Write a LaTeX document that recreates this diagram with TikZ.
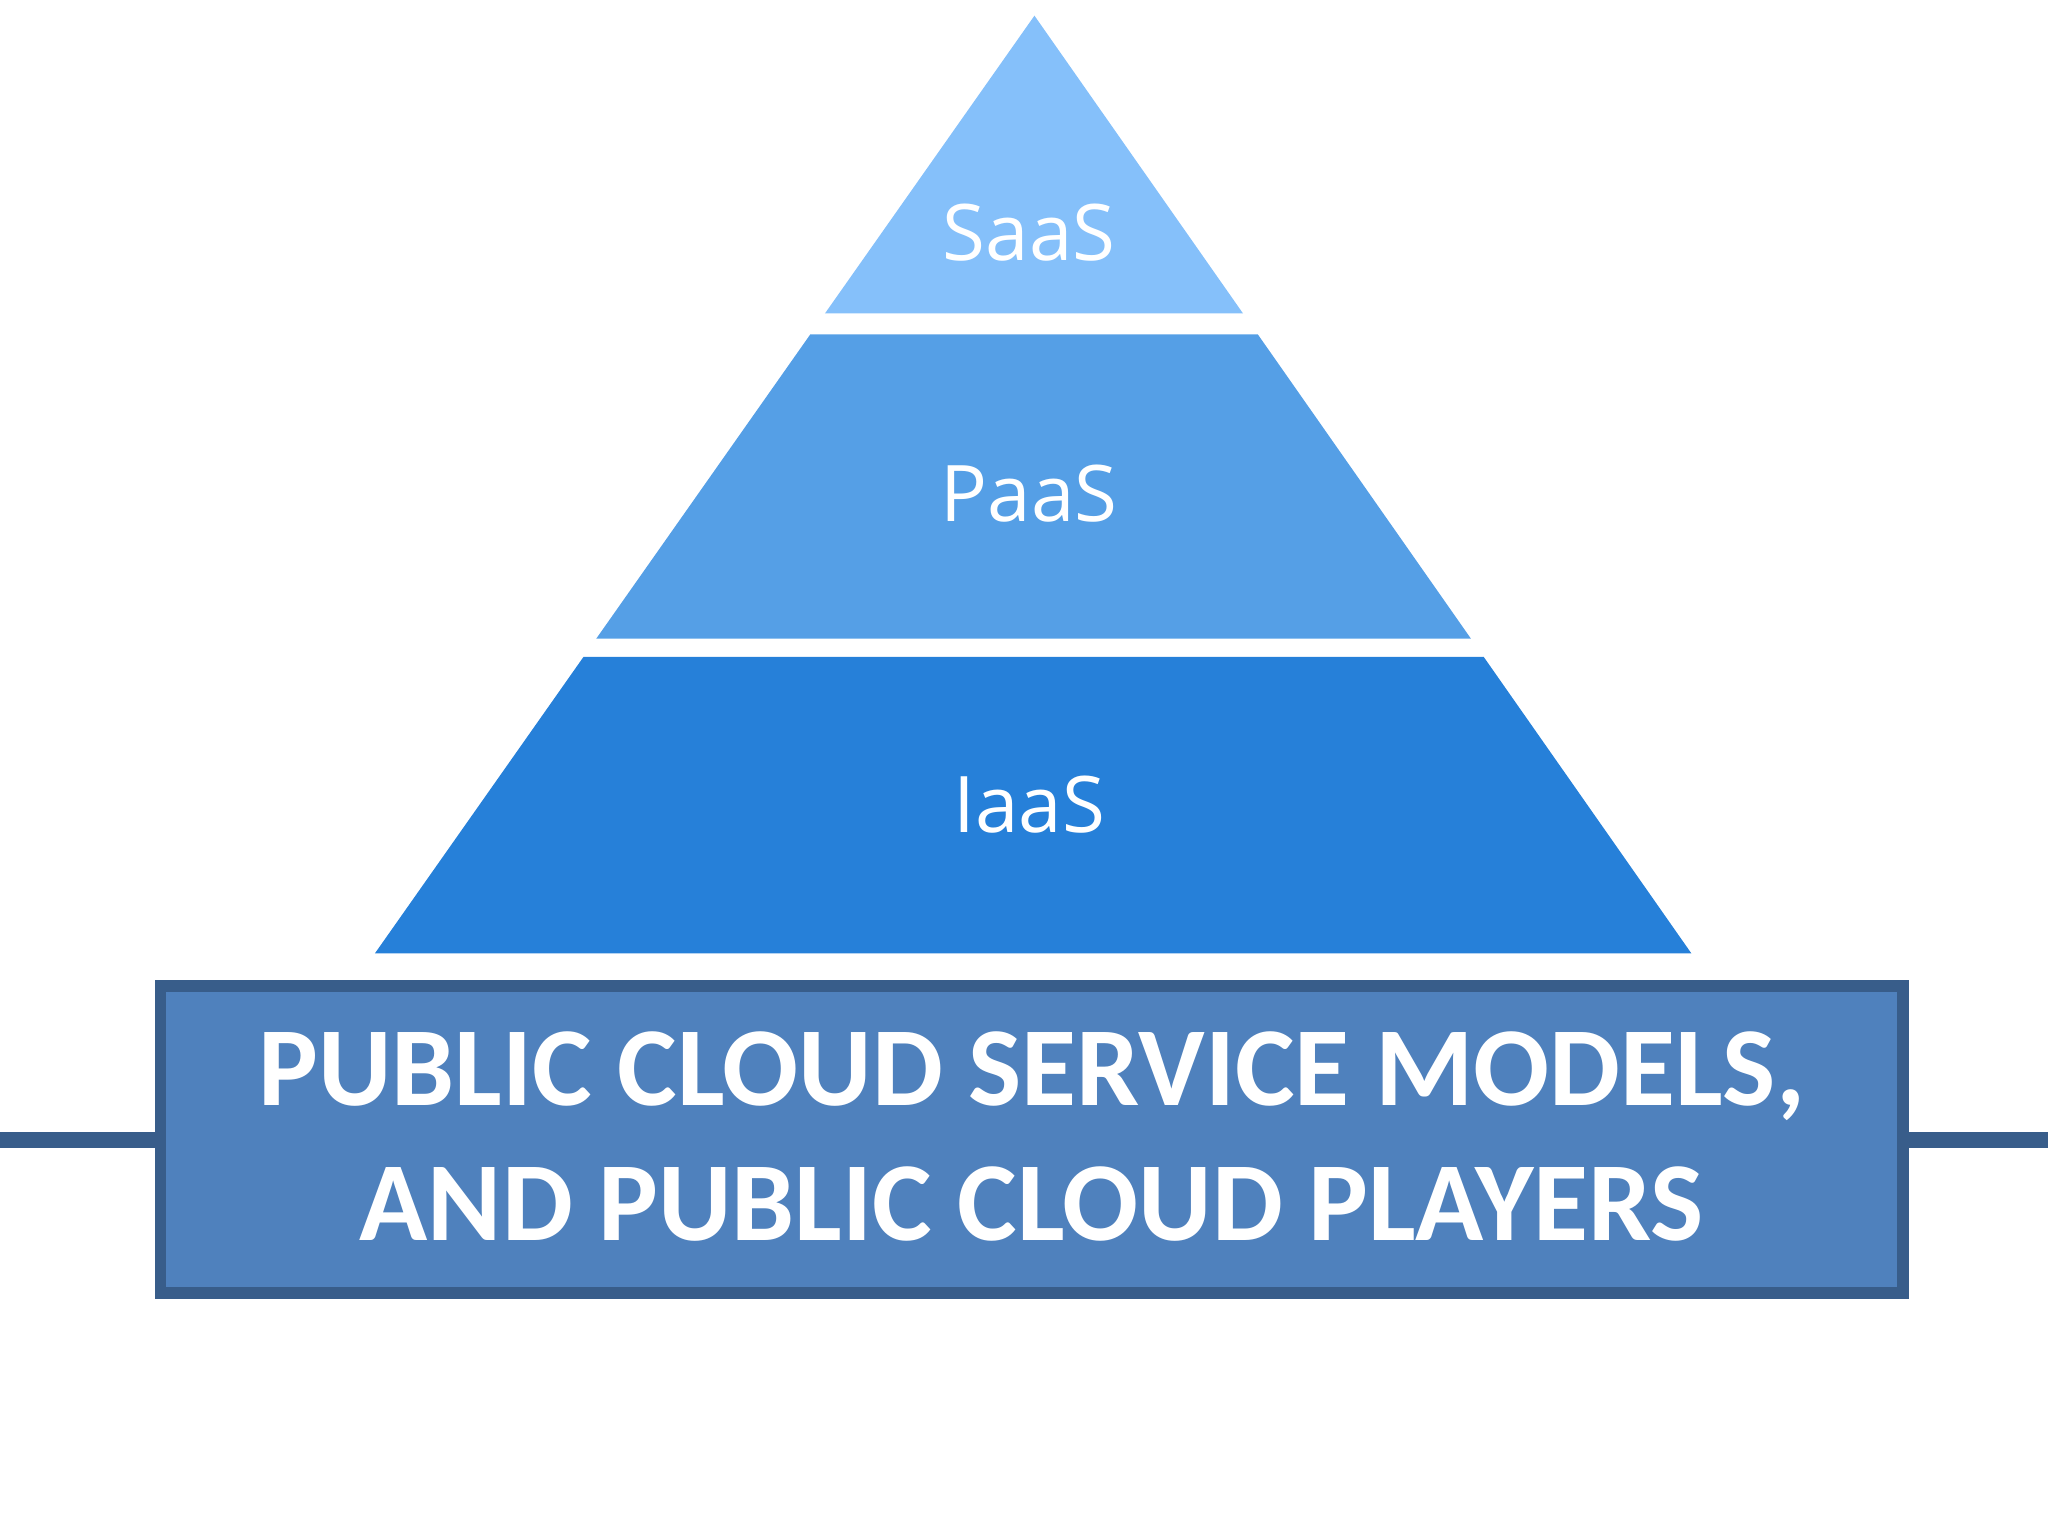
\documentclass[tikz,border=0pt]{standalone}
\usepackage{fontspec}
\setmainfont{Carlito}
\newfontfamily\lblfont{Open Sans}
\definecolor{saas}{HTML}{85C0FA}
\definecolor{paas}{HTML}{559FE6}
\definecolor{iaas}{HTML}{2680D9}
\definecolor{boxfill}{HTML}{4F81BD}
\definecolor{boxdraw}{HTML}{385D8A}
\begin{document}
\begin{tikzpicture}[x=0.01cm,y=-0.01cm,
  lbl/.style={text=white,font=\lblfont\fontsize{17}{20}\selectfont}]
\useasboundingbox (0,0) rectangle (1568,1176);
\fill[saas] (792,12) -- (951.7,240) -- (631.6,240) -- cycle;
\fill[paas] (620.4,256) -- (963,256) -- (1126.2,489) -- (456.5,489) -- cycle;
\fill[iaas] (446.7,503) -- (1136,503) -- (1295,730) -- (287,730) -- cycle;
\node[lbl] (s) at (788,178) {SaaS};
\node[lbl] (p) at (788,378) {PaaS};
\node[lbl] (i) at (788,616) {IaaS};
\node[draw=boxdraw,line width=2.5pt,fill=boxfill,minimum width=1334\pgflinewidth,
  inner sep=0pt] (b) at (790,872.5) {};
\draw[boxdraw,line width=2.5pt,fill=boxfill] (123,755) rectangle (1457,990);
\node[text=white,align=center,font=\bfseries\fontsize{24.5}{29.5}\selectfont] (t) at (790,870)
  {PUBLIC CLOUD SERVICE MODELS,\\AND PUBLIC CLOUD PLAYERS};
\end{tikzpicture}
\end{document}
